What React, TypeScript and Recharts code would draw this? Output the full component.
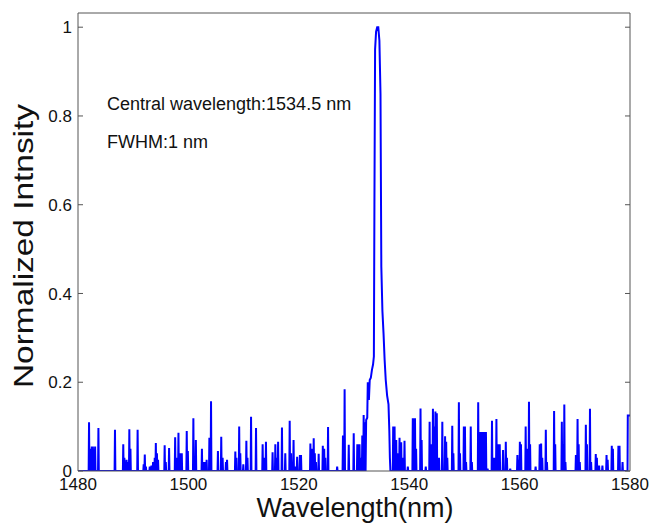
import { LineChart, Line, XAxis, YAxis, Customized } from 'recharts';

// axis ticks
const xTicks = [1480, 1500, 1520, 1540, 1560, 1580];
const yTicks = [0, 0.2, 0.4, 0.6, 0.8, 1];

// noise spikes on the baseline (nm, normalized)
const noiseWavelength = [
  1482.0, 1482.3, 1482.5, 1482.7, 1482.9, 1483.1, 1483.7, 1486.7, 1488.2, 1488.4,
  1488.6, 1488.8, 1489.0, 1489.3, 1489.5, 1490.8, 1491.9, 1492.1, 1492.3, 1493.0,
  1493.3, 1493.6, 1493.9, 1494.1, 1494.3, 1494.5, 1495.7, 1495.9, 1496.5, 1497.6,
  1497.8, 1498.2, 1498.5, 1498.8, 1499.7, 1499.9, 1500.9, 1501.35, 1502.45, 1502.7,
  1502.9, 1503.1, 1503.3, 1503.8, 1504.1, 1505.35, 1505.95, 1506.2, 1506.8, 1507.0,
  1508.5, 1508.7, 1509.2, 1509.4, 1509.95, 1510.5, 1510.7, 1511.35, 1512.25, 1513.45,
  1513.7, 1514.05, 1515.25, 1515.75, 1515.95, 1516.25, 1516.95, 1517.55, 1518.35, 1518.6,
  1519.05, 1519.4, 1519.7, 1520.2, 1520.4, 1522.1, 1522.35, 1522.7, 1522.9, 1523.1,
  1523.6, 1524.35, 1524.6, 1524.8, 1525.3, 1526.95, 1528.0, 1528.3, 1529.05, 1529.95,
  1530.6, 1530.8, 1531.0, 1531.2, 1531.5, 1531.75, 1531.95,
  1537.1, 1537.35, 1537.65, 1537.85, 1538.25, 1538.55, 1538.8, 1539.15, 1539.75, 1540.65,
  1540.85, 1541.05, 1541.25, 1542.05, 1542.25, 1543.0, 1543.7, 1543.9, 1544.3, 1544.5,
  1544.75, 1545.0, 1545.2, 1545.4, 1546.0, 1546.5, 1546.7, 1546.9, 1547.8, 1548.0,
  1549.0, 1549.2, 1549.9, 1550.1, 1550.3, 1551.15, 1551.35, 1552.5, 1552.9, 1553.1,
  1553.3, 1553.5, 1553.7, 1553.9, 1554.2, 1555.0, 1555.2, 1555.5, 1555.8, 1556.1,
  1556.4, 1557.0, 1557.5, 1557.7, 1558.3, 1559.6, 1559.8, 1560.05, 1560.25, 1561.1,
  1561.3, 1561.7, 1561.9, 1562.9, 1563.65, 1563.9, 1564.1, 1564.75, 1564.95, 1566.25,
  1566.45, 1567.65, 1567.85, 1568.1, 1568.3, 1570.2, 1570.5, 1570.7, 1570.9, 1572.0,
  1572.2, 1572.75, 1572.95, 1573.8, 1574.0, 1574.4, 1575.0, 1575.75, 1575.95, 1576.7,
  1576.9, 1577.9, 1578.1, 1578.65,
];
const noiseIntensity = [
  0.11, 0.05, 0.055, 0.055, 0.05, 0.055, 0.097, 0.093, 0.06, 0.03,
  0.02, 0.025, 0.02, 0.094, 0.05, 0.093, 0.015, 0.037, 0.01, 0.01,
  0.012, 0.02, 0.03, 0.063, 0.04, 0.025, 0.058, 0.02, 0.052, 0.076,
  0.03, 0.086, 0.04, 0.04, 0.09, 0.045, 0.119, 0.07, 0.05, 0.02,
  0.02, 0.02, 0.025, 0.075, 0.157, 0.045, 0.077, 0.03, 0.02, 0.025,
  0.044, 0.03, 0.1, 0.04, 0.015, 0.068, 0.03, 0.122, 0.097, 0.06,
  0.03, 0.066, 0.042, 0.06, 0.03, 0.066, 0.098, 0.04, 0.113, 0.04,
  0.07, 0.01, 0.032, 0.036, 0.036, 0.062, 0.05, 0.074, 0.04, 0.02,
  0.039, 0.057, 0.05, 0.03, 0.099, 0.01, 0.08, 0.184, 0.059, 0.085,
  0.06, 0.06, 0.06, 0.03, 0.08, 0.126, 0.11,
  0.1, 0.1, 0.07, 0.04, 0.075, 0.065, 0.03, 0.068, 0.01, 0.119,
  0.119, 0.119, 0.05, 0.141, 0.07, 0.01, 0.111, 0.06, 0.14, 0.1,
  0.134, 0.13, 0.03, 0.03, 0.111, 0.078, 0.066, 0.03, 0.102, 0.04,
  0.155, 0.04, 0.1, 0.1, 0.02, 0.1, 0.02, 0.155, 0.088, 0.088,
  0.088, 0.088, 0.088, 0.088, 0.005, 0.113, 0.03, 0.03, 0.117, 0.06,
  0.06, 0.047, 0.066, 0.03, 0.005, 0.036, 0.025, 0.066, 0.06, 0.1,
  0.05, 0.156, 0.06, 0.01, 0.06, 0.062, 0.03, 0.093, 0.02, 0.135,
  0.06, 0.111, 0.06, 0.15, 0.02, 0.036, 0.117, 0.06, 0.02, 0.104,
  0.06, 0.14, 0.02, 0.038, 0.03, 0.012, 0.012, 0.036, 0.025, 0.057,
  0.05, 0.057, 0.057, 0.02,
];

// main emission peak profile
const peakWavelength = [
  1532.1, 1532.2, 1532.4, 1532.5, 1532.7, 1532.85, 1533.05, 1533.25, 1533.45, 1533.6,
  1533.7, 1533.82, 1534.0, 1534.2, 1534.4, 1534.6, 1534.8, 1534.95, 1535.15, 1535.35,
  1535.55, 1535.75, 1536.0, 1536.25, 1536.4, 1536.5, 1536.6,
];
const peakIntensity = [
  0, 0.115, 0.12, 0.2, 0.16, 0.205, 0.21, 0.228, 0.24, 0.258,
  0.6, 0.95, 0.99, 1.0, 1.0, 0.97, 0.85, 0.46, 0.36, 0.31,
  0.25, 0.205, 0.17, 0.15, 0.09, 0.03, 0,
];

// ends of the trace
const edgeWavelength = [1480, 1579.55, 1579.6, 1580];
const edgeIntensity = [0, 0, 0.125, 0.125];

const HALF = 0.07;

function buildSpectrum() {
  const pts: { wl: number; value: number }[] = [];
  noiseWavelength.forEach((wl, i) => {
    pts.push({ wl: wl - HALF, value: 0 });
    pts.push({ wl, value: noiseIntensity[i] });
    pts.push({ wl: wl + HALF, value: 0 });
  });
  peakWavelength.forEach((wl, i) => pts.push({ wl, value: peakIntensity[i] }));
  edgeWavelength.forEach((wl, i) => pts.push({ wl, value: edgeIntensity[i] }));
  return pts.sort((a, b) => a.wl - b.wl);
}

const spectrum = buildSpectrum();

const AXIS = '#555555';

const NoLabel = () => <g />;

const Annotations = () => (
  <g fill="#111">
    <text x={107} y={110} fontSize={18}>Central wavelength:1534.5 nm</text>
    <text x={107} y={148} fontSize={18}>FWHM:1 nm</text>
    <text x={355} y={517} fontSize={27} textAnchor="middle">Wavelength(nm)</text>
    <text
      x={0}
      y={0}
      fontSize={28}
      textAnchor="middle"
      textLength={284}
      lengthAdjust="spacingAndGlyphs"
      transform="translate(33,246) rotate(-90)"
    >
      Normalized Intnsity
    </text>
  </g>
);

export default function App() {
  return (
    <div style={{ position: 'absolute', left: 0, top: 0, fontFamily: '"Liberation Sans", Arial, sans-serif' }}>
      <LineChart width={652} height={524} data={spectrum} margin={{ top: 13, right: 22, bottom: 0, left: 0 }}>
        <XAxis
          dataKey="wl"
          type="number"
          domain={[1480, 1580]}
          ticks={xTicks}
          allowDataOverflow
          height={53}
          tickLine={false}
          tickSize={0}
          tickMargin={7}
          axisLine={{ stroke: AXIS }}
          tick={{ fontSize: 17, fill: '#111' }}
        />
        <XAxis xAxisId="bm" type="number" domain={[1480, 1580]} ticks={xTicks} allowDataOverflow mirror tick={NoLabel} tickSize={5} tickLine={{ stroke: AXIS }} axisLine={false} />
        <XAxis xAxisId="top" orientation="top" type="number" domain={[1480, 1580]} ticks={xTicks} allowDataOverflow mirror tick={NoLabel} tickSize={5} tickLine={{ stroke: AXIS }} axisLine={{ stroke: AXIS }} />
        <YAxis
          type="number"
          domain={[0, 1.032]}
          ticks={yTicks}
          allowDataOverflow
          width={78}
          tickLine={false}
          tickSize={0}
          tickMargin={6}
          axisLine={{ stroke: AXIS }}
          tick={{ fontSize: 17, fill: '#111' }}
        />
        <YAxis yAxisId="lm" type="number" domain={[0, 1.032]} ticks={yTicks} allowDataOverflow mirror tick={NoLabel} tickSize={5} tickLine={{ stroke: AXIS }} axisLine={false} />
        <YAxis yAxisId="right" orientation="right" type="number" domain={[0, 1.032]} ticks={yTicks} allowDataOverflow mirror tick={NoLabel} tickSize={5} tickLine={{ stroke: AXIS }} axisLine={{ stroke: AXIS }} />
        <Line dataKey="value" type="linear" stroke="#0000ff" strokeWidth={2} dot={false} isAnimationActive={false} />
        <Customized component={Annotations} />
      </LineChart>
    </div>
  );
}
